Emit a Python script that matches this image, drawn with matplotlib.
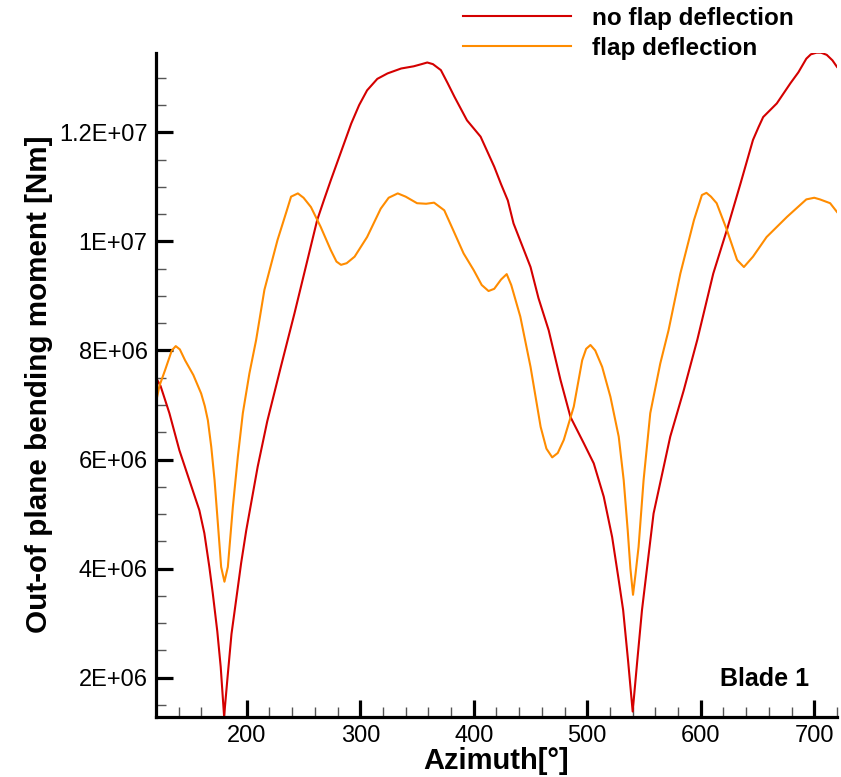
import matplotlib.pyplot as plt
from matplotlib.ticker import MultipleLocator

# Blade 1 out-of-plane bending moment over two revolutions (values in 1E6 Nm)
azimuth_no_flap = [120, 124, 131.8, 140.6, 149.4, 158.2, 162.6, 167, 170, 174, 177, 180, 183, 186.5,
                   192, 195, 199.5, 209.6, 218, 230, 242, 262, 268, 274, 292, 299, 306, 315,
                   324, 336, 347, 354, 359, 364, 371, 377, 383, 394, 406, 418, 424, 430,
                   435, 450, 457, 466, 476.4, 485.2, 496.9, 505.7, 514.5, 521.9, 527.7, 531.6, 536, 540,
                   544, 548.2, 558.4, 573.1, 585, 597, 611, 623, 635, 646, 651, 655, 667,
                   679, 686, 693, 697, 702, 706, 711, 716, 720]
moment_no_flap = [7.50, 7.35, 6.85, 6.17, 5.62, 5.07, 4.65, 4.03, 3.55, 2.85, 2.20, 1.29, 2.00, 2.80,
                  3.64, 4.10, 4.70, 5.87, 6.70, 7.70, 8.68, 10.39, 10.76, 11.12, 12.16, 12.50, 12.77, 12.98,
                  13.08, 13.17, 13.21, 13.25, 13.28, 13.25, 13.14, 12.90, 12.65, 12.22, 11.92, 11.37, 11.05, 10.75,
                  10.33, 9.53, 8.96, 8.37, 7.46, 6.78, 6.30, 5.93, 5.32, 4.58, 3.79, 3.24, 2.30, 1.38,
                  2.30, 3.24, 5.01, 6.42, 7.27, 8.20, 9.41, 10.21, 11.06, 11.86, 12.10, 12.28, 12.53,
                  12.90, 13.10, 13.35, 13.43, 13.46, 13.46, 13.42, 13.32, 13.20]

azimuth_flap = [120, 123, 128, 133.9, 137.4, 141, 145.6, 152.9, 159.8, 163, 165.7, 168.7, 171.6, 174.5,
                177.4, 180.3, 183.3, 187.7, 192.1, 196.5, 202.3, 208.2, 215.5, 227, 235, 239, 245, 250,
                256.5, 265, 274, 279, 283, 288, 295, 306, 318, 325, 333, 340, 350, 358,
                365, 374, 382, 391, 400, 407, 413, 418, 424, 429, 433, 441, 450, 458.9,
                464, 469.1, 474, 479.3, 488.1, 495.5, 499, 502.8, 507, 513.1, 520.4, 527.7, 532.1, 535.6,
                538, 540.3, 542.5, 545.2, 549.6, 555.5, 564.3, 571.6, 582, 594, 601, 605, 609,
                614, 623, 632, 638, 646, 658, 676, 693, 700, 705, 714, 720]
moment_flap = [7.05, 7.35, 7.64, 8.00, 8.08, 8.02, 7.82, 7.55, 7.21, 6.98, 6.72, 6.23, 5.62, 4.83,
               4.03, 3.76, 4.03, 5.13, 6.05, 6.85, 7.58, 8.19, 9.11, 10.02, 10.55, 10.82, 10.88, 10.80,
               10.63, 10.27, 9.84, 9.63, 9.57, 9.60, 9.72, 10.08, 10.60, 10.80, 10.88, 10.82, 10.70, 10.69,
               10.71, 10.57, 10.20, 9.78, 9.47, 9.20, 9.09, 9.13, 9.30, 9.40, 9.20, 8.62, 7.70, 6.60,
               6.20, 6.04, 6.12, 6.36, 6.97, 7.82, 8.03, 8.10, 8.00, 7.70, 7.15, 6.42, 5.62, 4.71,
               4.00, 3.52, 3.90, 4.40, 5.62, 6.85, 7.76, 8.37, 9.41, 10.39, 10.85, 10.89, 10.82,
               10.70, 10.21, 9.66, 9.53, 9.72, 10.08, 10.45, 10.77, 10.80, 10.77, 10.70, 10.54]

y_ticks = [2e6, 4e6, 6e6, 8e6, 1e7, 1.2e7]
y_tick_labels = ["2E+06", "4E+06", "6E+06", "8E+06", "1E+07", "1.2E+07"]
x_ticks = [200, 300, 400, 500, 600, 700]


def main():
    plt.rcParams['font.family'] = ['Liberation Sans', 'DejaVu Sans']

    fig = plt.figure(figsize=(8.41, 7.77), dpi=100)
    ax = fig.add_axes([0.1855, 0.0776, 0.8097, 0.8546])

    y1 = [v * 1e6 for v in moment_no_flap]
    y2 = [v * 1e6 for v in moment_flap]
    ax.plot(azimuth_no_flap, y1, color='#D40000', linewidth=1.5, label='no flap deflection')
    ax.plot(azimuth_flap, y2, color='#FF8C00', linewidth=1.5, label='flap deflection')

    ax.set_xlim(120, 720)
    ax.set_ylim(1.285e6, 1.346e7)

    for side in ('top', 'right'):
        ax.spines[side].set_visible(False)
    for side in ('left', 'bottom'):
        ax.spines[side].set_linewidth(2.3)

    ax.set_xticks(x_ticks)
    ax.set_yticks(y_ticks)
    ax.set_yticklabels(y_tick_labels)
    ax.xaxis.set_minor_locator(MultipleLocator(20))
    ax.yaxis.set_minor_locator(MultipleLocator(5e5))
    ax.tick_params(which='major', direction='in', length=12, width=2.3, labelsize=17, pad=6)
    ax.tick_params(which='minor', direction='in', length=7, width=1.0, color='#555555')

    ax.set_xlabel('Azimuth[°]', fontsize=21, fontweight='bold', labelpad=0)
    ax.set_ylabel('Out-of plane bending moment [Nm]', fontsize=21.3, fontweight='bold', labelpad=4.5)

    ax.text(0.959, 0.057, 'Blade 1', transform=ax.transAxes, ha='right', va='center',
            fontsize=18, fontweight='bold')

    fig.legend(loc='upper left', bbox_to_anchor=(0.5332, 1.0103), frameon=False,
               prop={'weight': 'bold', 'size': 17.5},
               handlelength=4.45, handletextpad=0.85, borderpad=0.1, labelspacing=0.29)

    fig.savefig('out.png', dpi=100)


if __name__ == "__main__":
    main()
